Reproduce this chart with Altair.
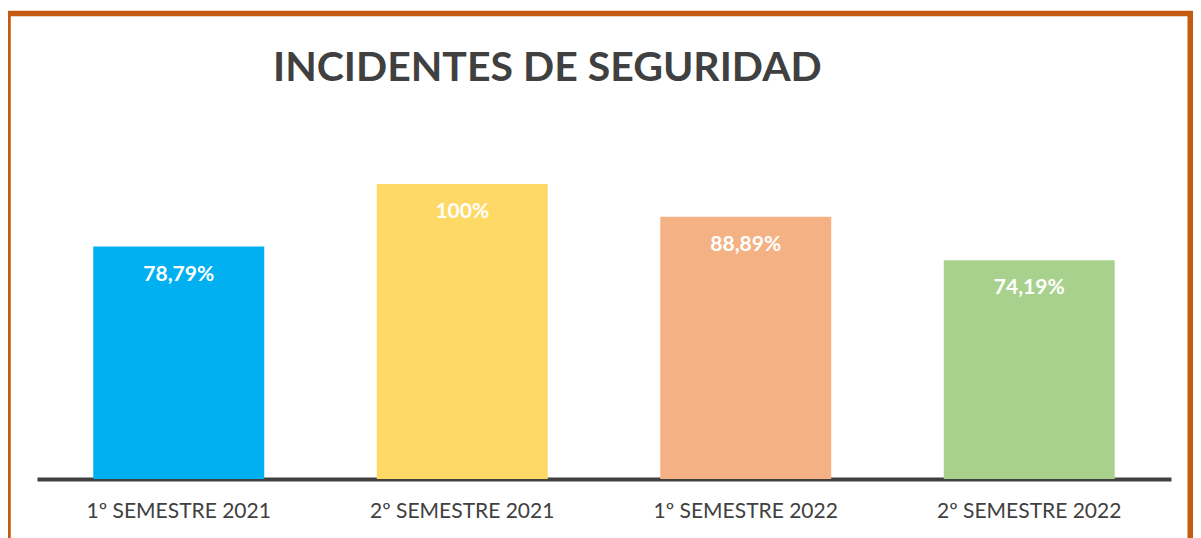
import altair as alt
import pandas as pd

categories = ["1º SEMESTRE 2021", "2º SEMESTRE 2021", "1º SEMESTRE 2022", "2º SEMESTRE 2022"]
values = [78.79, 100.0, 88.89, 74.19]
labels = ["78,79%", "100%", "88,89%", "74,19%"]
colors = ["#00B0F0", "#FFD966", "#F4B183", "#A9D18E"]
title_text = "INCIDENTES DE SEGURIDAD"

df = pd.DataFrame({"cat": categories, "val": values, "lab": labels})

W = 1134
H = 295

x = alt.X("cat:N", sort=categories, title=None,
          scale=alt.Scale(paddingInner=0.397, paddingOuter=0.1985),
          axis=alt.Axis(domainColor="#404040", domainWidth=4, ticks=False, tickSize=0,
                        labelAngle=0, labelFont="Lato", labelFontSize=21, labelLimit=0,
                        labelColor="#404040", labelPadding=21, grid=False))
y = alt.Y("val:Q", title=None, scale=alt.Scale(domain=[0, 100], nice=False, zero=True),
          axis=None)

bars = alt.Chart(df).mark_bar(opacity=1).encode(
    x=x, y=y,
    color=alt.Color("cat:N", sort=categories,
                    scale=alt.Scale(domain=categories, range=colors), legend=None),
)

text = alt.Chart(df).mark_text(
    font="Lato", fontSize=21, fontWeight="bold", color="white",
    baseline="middle", dy=28
).encode(x=alt.X("cat:N", sort=categories), y="val:Q", text="lab:N")

frame = alt.Chart(alt.Data(values=[{"a": 1}])).mark_rect(
    fill="transparent", stroke="#C55A11", strokeWidth=5.5
).encode(x=alt.value(-29), x2=alt.value(1153.25), y=alt.value(-170.5), y2=alt.value(420))

title = alt.Chart(alt.Data(values=[{"t": title_text}])).mark_text(
    font="Lato", fontSize=41, fontWeight="bold", color="#404040",
    align="left", baseline="alphabetic"
).encode(x=alt.value(236), y=alt.value(-103), text="t:N")

chart = alt.layer(frame, title, bars, text).properties(
    width=W, height=H,
    background="white",
    autosize=alt.AutoSizeParams(type="none"),
    padding={"left": 29, "top": 176, "right": 22, "bottom": 69},
).configure_view(strokeWidth=0)

chart.save("out.html", embed_options={"renderer": "svg", "actions": False})
